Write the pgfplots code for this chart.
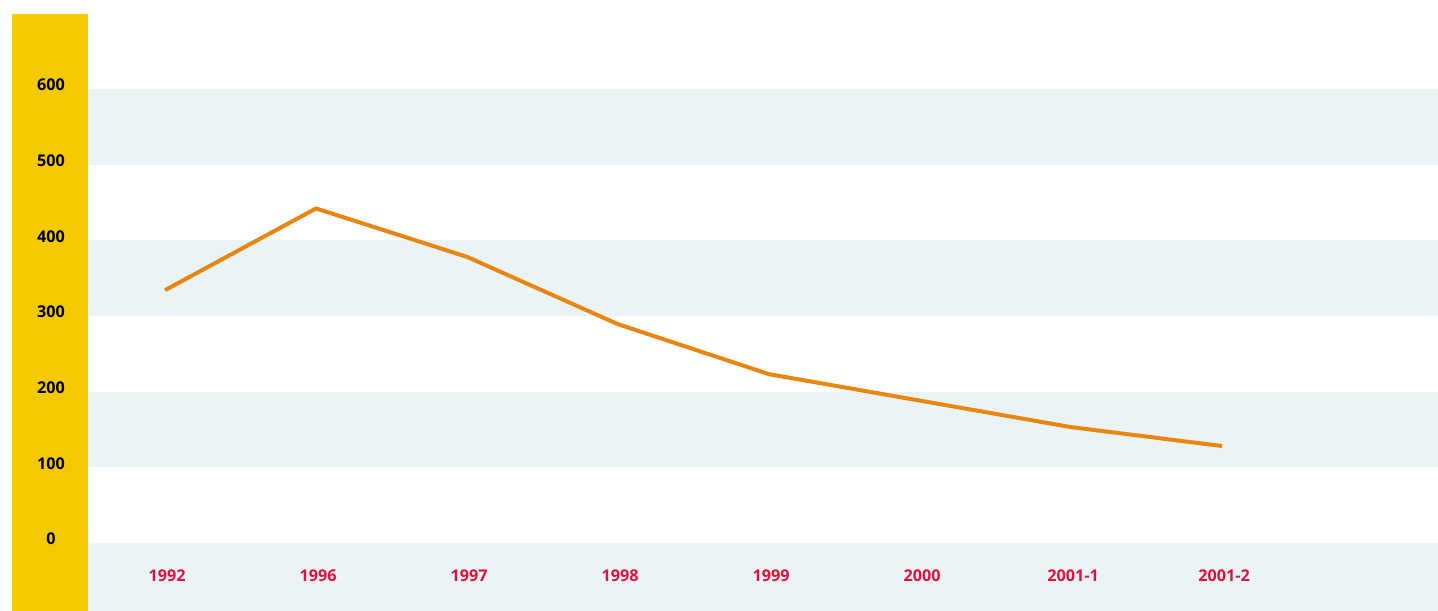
\documentclass[border=0pt]{standalone}
\usepackage{pgfplots}
\pgfplotsset{compat=1.18}
\usepackage{fontspec}
\setmainfont{Open Sans}
\definecolor{band}{HTML}{EAF4F7}
\definecolor{yel}{HTML}{F5C900}
\definecolor{org}{HTML}{E8860F}
\definecolor{lab}{HTML}{E2103A}
\begin{document}
\begin{tikzpicture}[x=1pt,y=1pt]
\begin{axis}[
  set layers,
  scale only axis,
  width=675pt, height=298.5pt,
  xmin=-0.51, xmax=8.43,
  ymin=-90, ymax=699,
  axis line style={draw=none},
  tick style={draw=none},
  clip=false,
  xtick={0,...,7},
  xticklabels={1992,1996,1997,1998,1999,2000,2001-1,2001-2},
  ytick={0,100,...,600},
  /pgf/number format/assume math mode=true,
  yticklabel style={anchor=center, xshift=-18.5pt, yshift=2pt, font=\fontsize{8.1}{9}\selectfont\bfseries, text=black},
  xticklabel style={anchor=center, xshift=1pt, yshift=17.5pt, font=\fontsize{8.1}{9}\selectfont\bfseries, text=lab},
]
\begin{pgfonlayer}{axis background}
\fill[band] (axis cs:-0.51,500) rectangle (axis cs:8.43,600);
\fill[band] (axis cs:-0.51,300) rectangle (axis cs:8.43,400);
\fill[band] (axis cs:-0.51,100) rectangle (axis cs:8.43,200);
\fill[band] (axis cs:-0.51,-90) rectangle (axis cs:8.43,0);
\fill[yel] (rel axis cs:-0.0563,0) rectangle (rel axis cs:0,1);
\path (rel axis cs:-0.0652,0) rectangle (rel axis cs:1,1.02345);
\end{pgfonlayer}
\addplot[org, line width=2pt, line join=round] coordinates {
(0,334) (1,442) (2,378) (3,289) (4,223) (5,188) (6,153) (7,128)
};
\end{axis}
\end{tikzpicture}
\end{document}
